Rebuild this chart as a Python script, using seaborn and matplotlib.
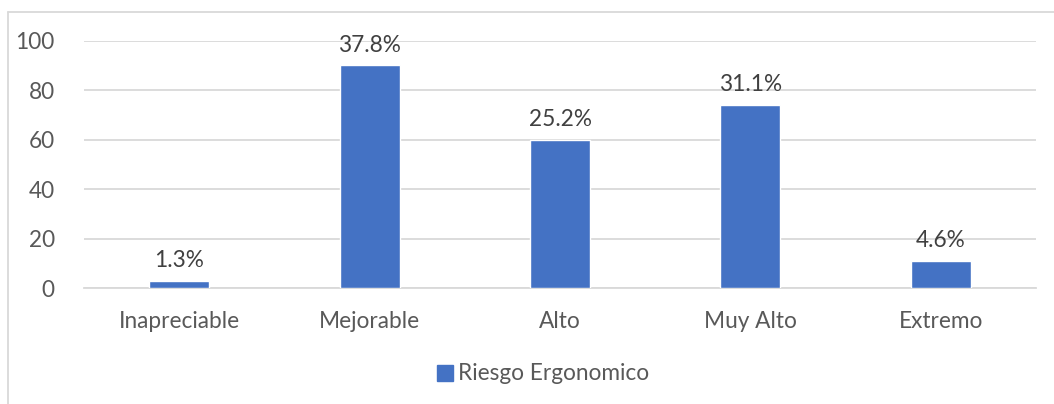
import matplotlib
matplotlib.use("Agg")
import matplotlib.pyplot as plt
from matplotlib.lines import Line2D
from matplotlib.patches import Patch
import seaborn as sns
import pandas as pd

# Ergonomic risk levels and number of cases in each
categories = ["Inapreciable", "Mejorable", "Alto", "Muy Alto", "Extremo"]
counts = [3, 90, 60, 74, 11]
series_name = "Riesgo Ergonomico"
y_ticks = [0, 20, 40, 60, 80, 100]

total = sum(counts)
percent_labels = [f"{c / total * 100:.1f}%" for c in counts]

sns.set_theme(style="white")
plt.rcParams["font.family"] = ["Lato", "DejaVu Sans"]

BAR = "#4472C4"
GRID = "#D9D9D9"
TICK = "#595959"
LABEL = "#404040"
FS = 16.3

W, H = 1054, 404
fig = plt.figure(figsize=(W / 100, H / 100), dpi=100)
fig.patch.set_facecolor("white")
ax = fig.add_axes([84 / W, 1 - 288.3 / H, (1036 - 84) / W, (288.3 - 40.7) / H])

df = pd.DataFrame({"nivel": categories, "casos": counts})
sns.barplot(data=df, x="nivel", y="casos", color=BAR, width=0.315,
            saturation=1, ax=ax, zorder=3)

ax.set_ylim(0, 100)
ax.set_yticks(y_ticks)
ax.set_xlim(-0.5, len(categories) - 0.5)
ax.set_xlabel("")
ax.set_ylabel("")
ax.yaxis.grid(True, color=GRID, linewidth=1.3, zorder=0)
ax.set_axisbelow(True)
for side in ["top", "right", "left"]:
    ax.spines[side].set_visible(False)
ax.spines["bottom"].set_color(GRID)
ax.spines["bottom"].set_linewidth(1.3)
ax.tick_params(axis="y", length=0, pad=21, labelsize=FS, labelcolor=TICK)
ax.tick_params(axis="x", length=0, pad=16, labelsize=FS, labelcolor=TICK)

# Percentage of total above each bar
for container in ax.containers:
    ax.bar_label(container, labels=percent_labels, padding=7,
                 fontsize=FS, color=LABEL)

# Legend below the category labels
handles = [Patch(facecolor=BAR, edgecolor=BAR, label=series_name)]
fig.legend(handles=handles, loc="center", bbox_to_anchor=(543 / W, 1 - 374 / H),
           frameon=False, fontsize=FS, handlelength=0.7, handleheight=0.7,
           handletextpad=0.25, labelcolor=TICK)

# Chart area outline
fig.add_artist(Line2D([8 / W, 8 / W], [0, 1 - 11.5 / H], transform=fig.transFigure,
                      color=GRID, linewidth=1.3))
fig.add_artist(Line2D([8 / W, 1], [1 - 11.5 / H, 1 - 11.5 / H], transform=fig.transFigure,
                      color=GRID, linewidth=1.3))

fig.savefig("out.png", dpi=100, facecolor="white")
